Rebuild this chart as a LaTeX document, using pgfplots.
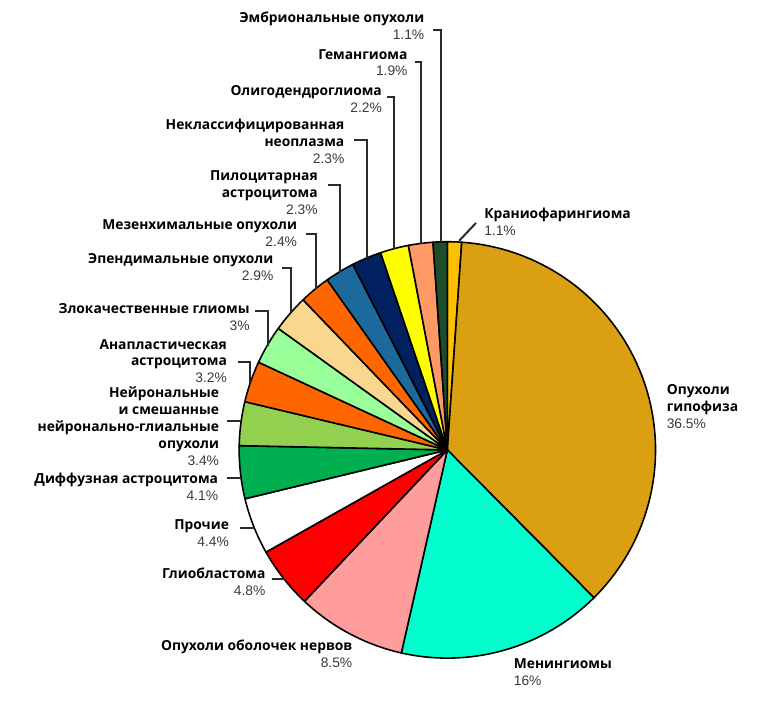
\documentclass[border=0pt]{standalone}
\usepackage{fontspec}
\usepackage{pgfplots}
\usepackage{pgfplotstable}
\pgfplotsset{compat=1.18}
\setmainfont{Open Sans}
\newfontfamily\pctfont{Liberation Sans}

\definecolor{c0}{HTML}{FFC000}
\definecolor{c1}{HTML}{DBA012}
\definecolor{c2}{HTML}{00FFCC}
\definecolor{c3}{HTML}{FF9C9C}
\definecolor{c4}{HTML}{FF0000}
\definecolor{c5}{HTML}{FFFFFF}
\definecolor{c6}{HTML}{00B050}
\definecolor{c7}{HTML}{92D050}
\definecolor{c8}{HTML}{FF6600}
\definecolor{c9}{HTML}{99FF99}
\definecolor{c10}{HTML}{F9D78E}
\definecolor{c11}{HTML}{FF6600}
\definecolor{c12}{HTML}{1C6A9C}
\definecolor{c13}{HTML}{002060}
\definecolor{c14}{HTML}{FFFF00}
\definecolor{c15}{HTML}{FF9966}
\definecolor{c16}{HTML}{1E4D2B}
\definecolor{pctgray}{HTML}{3A3A3A}
\definecolor{leader}{HTML}{2A2A2A}

% shares in percent, clockwise from the top
\pgfplotstableread{
value
1.1
36.5
16
8.5
4.8
4.4
4.1
3.4
3.2
3
2.9
2.4
2.3
2.3
2.2
1.9
1.1
}\piedata

\newcommand{\nm}[1]{{\bfseries #1}}
\newcommand{\pc}[1]{{\pctfont\color{pctgray}#1}}

\begin{document}
\def\cum{0}
\pgfplotsforeachungrouped \i in {0,...,16}{%
  \pgfplotstablegetelem{\i}{value}\of\piedata
  \pgfmathsetmacro\a{90-\cum/100.1*360}%
  \pgfmathsetmacro\cum{\cum+\pgfplotsretval}%
  \pgfmathsetmacro\b{90-\cum/100.1*360}%
  \expandafter\xdef\csname sa\i\endcsname{\a}%
  \expandafter\xdef\csname sb\i\endcsname{\b}%
}
\begin{tikzpicture}[font=\fontsize{7}{8.6}\selectfont]
\useasboundingbox (0,0) rectangle (385pt,357.5pt);
\begin{axis}[
  at={(0,0)}, anchor=south west,
  width=385pt, height=357.5pt, scale only axis,
  xmin=0, xmax=770, ymin=0, ymax=715,
  hide axis, clip=false,
]
\pgfplotsinvokeforeach{0,...,16}{%
  \edef\doslice{\noexpand\addplot[draw=black, line width=0.8pt, line join=round, fill=c#1,
    domain=\csname sb#1\endcsname:\csname sa#1\endcsname, samples=80, variable=\noexpand\t]
    ({443+211*cos(\noexpand\t)},{259+211*sin(\noexpand\t)}) -- (axis cs:443,259) -- cycle;}%
  \doslice
}
% leader lines
\begin{scope}[draw=leader, line width=1pt]
\draw (axis cs:428,685) -- (axis cs:437,685) -- (axis cs:437,470);
\draw (axis cs:410,652) -- (axis cs:416,652) -- (axis cs:416,468);
\draw (axis cs:382,617) -- (axis cs:389,617) -- (axis cs:389,463);
\draw (axis cs:348,573) -- (axis cs:362,573) -- (axis cs:362,453);
\draw (axis cs:322,527) -- (axis cs:334,527) -- (axis cs:334,439);
\draw (axis cs:300,478) -- (axis cs:310,478) -- (axis cs:310,422);
\draw (axis cs:275,443) -- (axis cs:285,443) -- (axis cs:285,399);
\draw (axis cs:248,400) -- (axis cs:261,400) -- (axis cs:261,364);
\draw (axis cs:231,348) -- (axis cs:243,348) -- (axis cs:243,327);
\draw (axis cs:220,288) -- (axis cs:234,288);
\draw (axis cs:220,231) -- (axis cs:234,231);
\draw (axis cs:233,180) -- (axis cs:248,180);
\draw (axis cs:265,128) -- (axis cs:278,128);
\draw (axis cs:472,489) -- (axis cs:455,471);
\end{scope}
% labels
\begin{scope}[every node/.style={inner sep=0pt}]
\node[anchor=east, align=right] at (axis cs:420,688.5) {\nm{Эмбриональные опухоли}\\\pc{1.1\%}};
\node[anchor=east, align=right] at (axis cs:403,651.5) {\nm{Гемангиома}\\\pc{1.9\%}};
\node[anchor=east, align=right] at (axis cs:377,614.5) {\nm{Олигодендроглиома}\\\pc{2.2\%}};
\node[anchor=east, align=right] at (axis cs:339,571.5) {\nm{Неклассифицированная}\\\nm{неоплазма}\\\pc{2.3\%}};
\node[anchor=east, align=right] at (axis cs:312,520) {\nm{Пилоцитарная}\\\nm{астроцитома}\\\pc{2.3\%}};
\node[anchor=east, align=right] at (axis cs:291,478.5) {\nm{Мезенхимальные опухоли}\\\pc{2.4\%}};
\node[anchor=east, align=right] at (axis cs:267,444) {\nm{Эпендимальные опухоли}\\\pc{2.9\%}};
\node[anchor=east, align=right] at (axis cs:243,393.5) {\nm{Злокачественные глиомы}\\\pc{3\%}};
\node[anchor=east, align=right] at (axis cs:220,349) {\nm{Анапластическая}\\\nm{астроцитома}\\\pc{3.2\%}};
\node[anchor=east, align=right] at (axis cs:212,283) {\nm{Нейрональные}\\\nm{и смешанные}\\\nm{нейронально-глиальные}\\\nm{опухоли}\\\pc{3.4\%}};
\node[anchor=east, align=right] at (axis cs:211,222) {\nm{Диффузная астроцитома}\\\pc{4.1\%}};
\node[anchor=east, align=right] at (axis cs:222,175) {\nm{Прочие}\\\pc{4.4\%}};
\node[anchor=east, align=right] at (axis cs:259,125.5) {\nm{Глиобластома}\\\pc{4.8\%}};
\node[anchor=east, align=right] at (axis cs:347,52) {\nm{Опухоли оболочек нервов}\\\pc{8.5\%}};
\node[anchor=west, align=left] at (axis cs:510,34) {\nm{Менингиомы}\\\pc{16\%}};
\node[anchor=west, align=left] at (axis cs:665,303) {\nm{Опухоли}\\\nm{гипофиза}\\\pc{36.5\%}};
\node[anchor=west, align=left] at (axis cs:480,490) {\nm{Краниофарингиома}\\\pc{1.1\%}};
\end{scope}
\end{axis}
\end{tikzpicture}
\end{document}
